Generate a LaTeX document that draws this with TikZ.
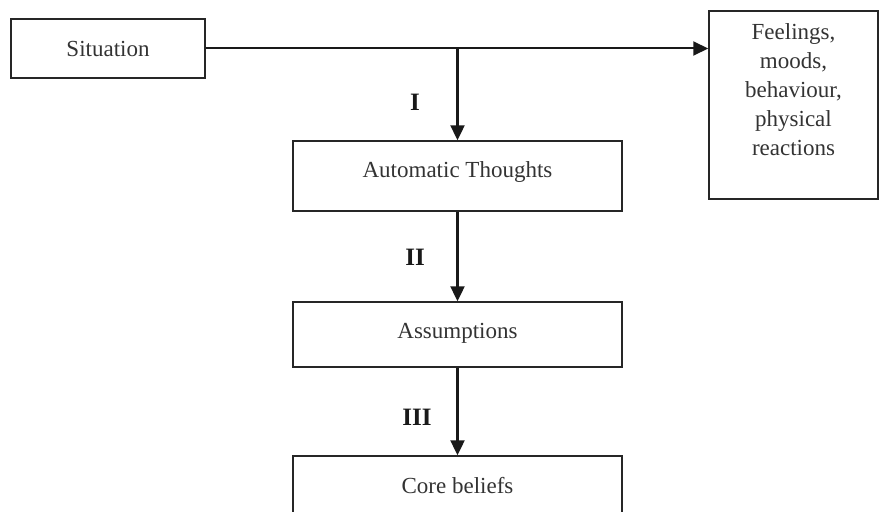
\documentclass[tikz,border=0pt]{standalone}
\usepackage{fontspec}
\setmainfont{Liberation Serif}
\usetikzlibrary{arrows.meta}
\begin{document}
\begin{tikzpicture}[>={Triangle[length=15pt,width=14pt]},x=1pt,y=-1pt,
    box/.style={draw=black!85,line width=1.5pt,inner sep=0pt,text=black!80,
        font=\fontsize{23}{29}\selectfont,align=center},
    flow/.style={->,draw=black!90,line width=2.4pt},
    roman/.style={text=black!90,font=\fontsize{25}{29}\selectfont\bfseries}]
    \clip (0,0) rectangle (880,511);
    \path
    (108,48.5) node[box,minimum width=194,minimum height=59] (sit) {Situation}
    (793.5,105) node[box,minimum width=169,minimum height=188,text depth=30] (feel)
        {Feelings,\\moods,\\behaviour,\\physical\\reactions}
    (457.5,176) node[box,minimum width=329,minimum height=70,text depth=13] (auto) {Automatic Thoughts}
    (457.5,334.5) node[box,minimum width=329,minimum height=65,text depth=7] (assu) {Assumptions}
    (457.5,491) node[box,minimum width=329,minimum height=70,text depth=11] (core) {Core beliefs}
    (415,102) node[roman] (one) {I}
    (415,257) node[roman] (two) {II}
    (417,417) node[roman] (three) {III}
    ;
    \coordinate (split) at (auto.north |- sit.east);
    \draw[->,black!90,line width=2pt] (sit.east) -- (sit.east -| feel.west);
    \draw[flow] (split) -- (auto.north);
    \draw[flow] (auto) -- (assu);
    \draw[flow] (assu) -- (core);
\end{tikzpicture}
\end{document}
